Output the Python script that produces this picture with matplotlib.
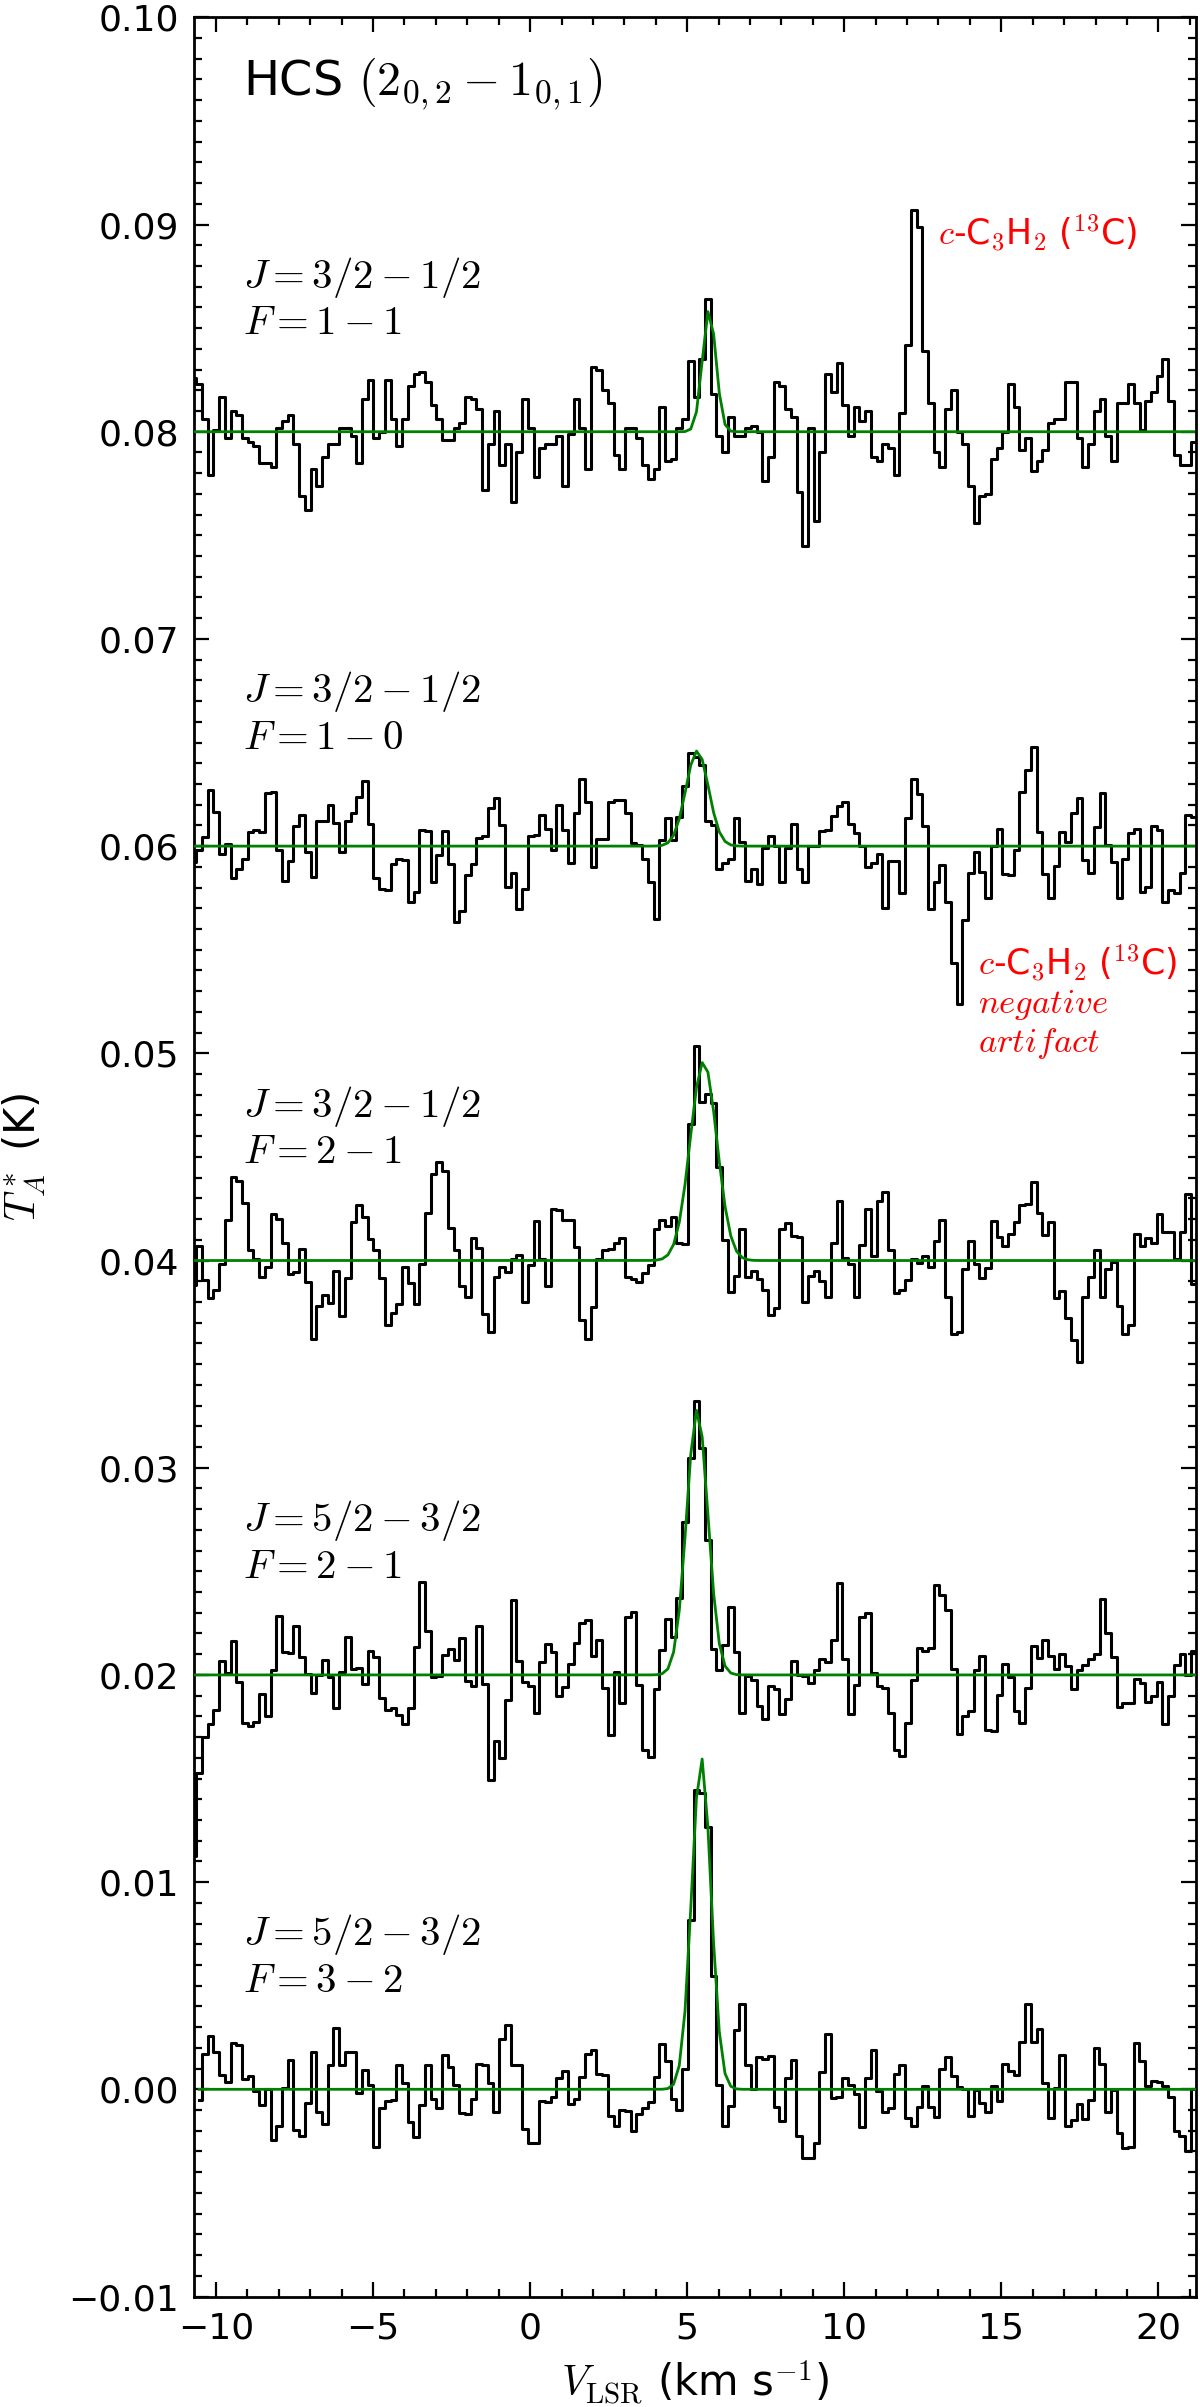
import numpy as np
import matplotlib
matplotlib.use("Agg")
import matplotlib.pyplot as plt
from matplotlib.ticker import MultipleLocator

plt.rcParams['font.family'] = ['DejaVu Sans']
plt.rcParams['mathtext.fontset'] = 'cm'

# ---------------- data (offsets from baseline in mK) ----------------
dv = 0.182                                   # channel width (km/s)
v_start = [-10.72, -10.72, -10.72, -10.72, -10.54]   # first channel velocity
baselines = [0.08, 0.06, 0.04, 0.02, 0.00]

spec_F11 = [2.6, 2.3, 0.6, -2.1, 0.1, 1.7, -0.3, 1.0, 0.8, -0.3,
            -0.5, -0.7, -1.5, -1.5, -1.7, 0.2, 0.5, 0.8, -0.6, -3.1,
            -3.8, -1.8, -2.6, -1.2, -0.6, -0.6, 0.2, 0.2, -0.2, -1.5,
            1.6, 2.5, -0.3, 0.0, 2.5, 0.6, -0.7, 0.6, 2.2, 2.8,
            2.9, 2.4, 1.3, 0.6, -0.4, -0.4, 0.2, 0.4, 1.7, 1.6,
            1.1, -2.8, -0.6, 1.0, -1.6, -0.6, -3.4, -1.0, 1.6, 0.2,
            -2.2, -0.8, -0.6, -0.6, -0.2, -2.6, -0.1, 1.6, 0.2, -1.8,
            3.1, 3.0, 2.0, 1.4, -1.1, -1.8, 0.2, 0.2, -0.3, -1.6,
            -2.3, -1.8, 1.2, -1.4, -1.3, 0.2, 0.6, 3.4, 1.7,
            3.5, 6.4, 1.8, -0.2, -1.0, 0.7, -0.2, -0.2, 0.2, 0.3,
            0.0, -2.4, -1.2, 2.4, 2.2, 1.1, 0.7, -2.9, -5.5, 0.2,
            -4.3, -1.0, 2.8, 1.9, 3.3, 1.3, -0.2, 1.2, 0.5, 1.0,
            -1.2, -1.4, -0.6, -0.8, -2.1, 0.9, 4.2, 10.7, 9.9, 3.9,
            1.4, -1.0, -1.7, 1.1, 2.0, 0.0, -0.6, -2.6, -4.4, -3.1,
            -3.0, -1.3, -0.8, 0.0, 2.3, 1.2, -0.9, -0.3, -1.9, -1.4,
            -0.9, 0.4, 0.6, 0.6, 2.4, 2.4, -0.3, -1.7, -0.6, 1.0,
            1.6, -0.2, -1.4, 1.4, 1.4, 2.3, 1.4, 0.1, 1.5, 1.9,
            2.7, 3.5, 1.5, -1.1, -1.6, -1.6, -0.5]

spec_F10 = [-0.75, -0.2, 0.45, 2.7, 1.65, -0.4, 0.1, -1.55, -1.1, -0.6,
            0.7, 0.8, 0.7, 2.55, 2.6, -0.2, -1.7, -0.7, 0.95, 1.5,
            -0.3, -1.5, 1.2, 1.2, 2.0, 1.1, -0.3, 1.2, 1.6, 2.35,
            3.15, 1.05, -1.55, -2.05, -2.1, -0.85, -0.6, -0.65, -2.7, -2.2,
            0.8, 0.75, -1.75, -0.45, 0.75, -0.85, -3.65, -3.15, -1.4, -0.85,
            0.4, 0.5, 1.85, 2.3, 1.0, -1.95, -1.3, -3.05, -2.05, 0.5,
            0.55, 1.5, 0.85, -0.2, 2.0, 0.8, -0.8, 1.6, 3.25, 2.15,
            -1.0, 0.35, 0.35, 2.15, 2.25, 2.25, 1.6, 0.15, 0.05, -0.6,
            -1.75, -3.5, 0.3, 1.35, 0.3, 1.4, 2.9, 4.5, 4.3, 3.9,
            1.2, 1.0, -1.1, -0.8, -0.6, 1.35, 0.2, -1.7, -1.1, -1.85,
            -0.1, 0.5, 0.0, -1.75, -0.1, 1.05, -1.1, -1.75, 0.0, 0.0,
            0.75, 0.8, 1.45, 1.95, 2.15, 1.05, 0.65, 0.0, -1.0, -0.8,
            -0.4, -3.0, -0.7, -0.7, -2.25, 1.35, 3.25, 2.5, 0.95, -3.05,
            -1.75, -0.9, -2.7, -5.65, -7.6, -3.55, -1.3, -0.3, -1.25, -2.5,
            0.0, 0.85, -1.35, -1.4, -0.2, 2.6, 3.65, 4.8, 0.7, -1.35,
            -2.5, -0.95, 0.7, 0.2, 1.6, 2.3, -0.65, -1.3, 0.9, 2.55,
            0.05, -0.75, -2.5, -0.6, 0.65, 0.85, -2.2, -1.95, 0.95, 0.8,
            -2.7, -2.1, -2.25, -1.3, 1.5, 1.4]

spec_F21a = [-1.2, 0.7, -0.95, -1.8, -1.4, -0.15, 1.95, 4.05, 3.85, 2.8,
             0.5, 0.05, -0.8, -0.3, 2.25, 2.0, 0.85, -0.65, -0.55, 0.55,
             -1.05, -3.8, -2.2, -1.65, -2.05, -0.5, -2.7, -0.85, 1.85, 2.7,
             2.1, 1.05, 0.5, -0.85, -3.1, -2.55, -2.1, -0.3, -1.1, -2.1,
             -0.15, 2.3, 4.2, 4.75, 4.3, 1.55, 0.5, -1.25, -1.75, 1.1,
             0.6, -2.6, -3.45, -0.8, -0.3, -0.55, 0.05, 0.25, -2.0, -0.2,
             1.9, 0.05, -1.25, 2.5, 2.45, 1.95, 1.95, 0.65, -2.85, -3.8,
             -2.25, 0.05, 0.5, 0.55, 0.85, 1.1, -0.8, -0.9, -1.05, -0.6,
             -0.2, 1.5, 1.95, 1.65, 2.1, 0.85, 0.8, 6.6, 10.35, 7.65,
             8.05, 7.6, 4.5, 1.0, -1.5, -0.75, 1.5, -0.8, -0.5, -0.9,
             -1.4, -2.65, -2.3, 1.5, 1.8, 1.2, 1.15, -2.0, -0.75, -0.5,
             -1.0, -1.75, 0.85, 2.85, 0.1, -0.15, -1.75, 0.75, 2.5, 0.2,
             2.85, 3.3, 0.5, -1.55, -1.4, -0.95, 0.05, -0.1, 0.2, -0.3,
             0.95, 1.95, -1.75, -3.55, -3.45, -0.4, 0.95, -0.15, -0.85, -0.35,
             1.9, 1.15, 0.7, 1.3, 1.85, 2.7, 2.75, 3.8, 2.3, 1.25,
             1.85, -1.8, -1.45, -2.75, -3.85, -4.9, -1.75, -0.8, 0.5, -1.75,
             -0.4, -0.05, -2.2, -3.55, -3.1, 1.3, 0.7, 1.1, 0.85, 2.25,
             1.4, 1.4, 0.05, 1.4, 3.2, -1.15]

spec_F21b = [-8.75, -4.75, -3.0, -2.35, -1.7, 0.65, 0.1, 1.65, -0.35, -2.3,
             -2.45, -2.25, -0.9, -2.0, 0.25, 2.85, 1.1, 1.05, 2.35, 0.85,
             0.05, -0.85, 0.0, 0.7, -0.1, -1.6, 0.15, 1.85, 0.3, 0.35,
             -0.45, 1.15, 0.85, -1.1, -1.7, -1.6, -1.95, -2.35, -1.6, 1.35,
             4.5, 2.1, -0.1, -0.05, 0.95, 1.25, 0.7, 1.8, -0.3, -0.55,
             2.35, -0.45, -5.05, -3.2, -4.0, -1.2, 3.6, 0.65, -0.35, -0.55,
             -1.85, 0.6, 1.5, 1.1, -1.0, -0.6, 0.55, 1.55, 2.5, 2.65,
             0.9, 1.7, -0.65, -2.9, 0.15, -1.35, 2.8, 3.05, -0.5, -3.6,
             -3.95, -0.7, 1.2, 2.7, 1.85, 3.7, 7.4, 10.45, 13.2, 10.95,
             6.5, 1.25, 0.25, 1.45, 3.3, 1.1, -1.85, -0.05, -0.25, -1.5,
             -2.15, -0.55, -0.7, -1.9, -1.15, 0.65, 0.0, -0.05, -0.4, 0.25,
             0.75, 0.6, 1.7, 4.45, 0.75, -1.9, -0.5, 2.8, 3.0, 0.1,
             -0.55, -0.65, -1.85, -3.6, -3.9, -2.3, -0.25, 1.3, 1.15, 1.3,
             4.35, 3.85, 3.15, 0.3, -2.85, -2.0, -1.75, 0.25, 0.9, -2.65,
             -2.7, -0.95, 0.55, -0.1, -1.75, -2.3, -0.65, 1.4, 0.8, 1.7,
             0.9, 0.3, 1.0, 0.45, -0.7, 0.25, 0.5, 0.75, 1.0, 3.65,
             2.0, 0.85, -1.55, -1.35, -1.35, -0.2, -0.4, -1.3, -1.0, -0.35,
             -2.35, -1.0, 0.5, 1.0, 0.0, 1.15, 1.5]

spec_F32 = [-0.5, 1.7, 2.55, 1.8, 0.7, 0.35, 2.25, 2.15, 0.5, 0.65, -0.1,
            -0.75, 0.0, -2.45, -1.75, 0.05, 1.4, -1.95, -2.25, -0.65, 1.8,
            -1.1, -1.65, 1.15, 2.95, 1.15, 1.8, 1.8, -0.2, 0.95, 0.2,
            -2.8, -0.9, -0.55, -0.5, 1.15, 0.3, -1.6, -2.3, -0.75, 1.15,
            -0.45, -0.9, 1.65, 1.1, 0.2, -1.15, -1.2, -0.45, 1.2, 1.15,
            0.3, -1.1, 2.45, 3.1, 1.15, 1.15, -1.9, -2.6, -2.6, -0.55,
            -0.6, -0.35, 0.55, 0.9, -0.7, -0.45, 0.6, 1.7, 1.9, 0.75,
            0.7, -1.3, -1.75, -1.0, -1.05, -2.0, -1.2, -0.9, -0.6, 0.6,
            2.2, 1.35, -0.45, -1.0, 1.0, 8.15, 14.45, 14.3, 12.65, 5.45,
            0.2, -1.75, -0.8, 2.85, 4.1, 1.15, 0.0, 1.55, 1.45, 1.6,
            -0.85, -1.55, 0.55, 1.4, -2.25, -3.3, -3.3, -2.6, 0.85, 2.65,
            -0.4, -0.35, 0.55, 0.2, -0.25, -1.8, 0.55, 1.9, -0.1, -1.1,
            -0.9, 0.75, 1.15, -1.4, -1.75, -0.85, 0.15, -0.85, -1.35, 1.0,
            1.55, 0.65, 0.1, 0.0, -1.3, -0.05, -0.65, -1.1, 0.15, -0.55,
            1.2, 0.9, 0.7, 2.3, 4.1, 2.3, 2.9, 0.3, -1.4, 0.05,
            1.65, -1.75, -1.5, -0.7, -1.45, -0.5, 2.0, 1.2, -1.1, -0.05,
            -2.1, -2.85, -2.8, 2.25, 1.35, 0.15, 0.4, 0.35, 0.15, -0.35,
            -2.0, -2.25, -3.0, 0.0, 1.1]

spectra = [spec_F11, spec_F10, spec_F21a, spec_F21b, spec_F32]

# Gaussian fit parameters (centre km/s, peak mK, FWHM km/s)
fit_center = [5.70, 5.32, 5.52, 5.32, 5.45]
fit_peak = [5.9, 4.6, 9.6, 12.8, 16.0]
fit_fwhm = [0.50, 0.85, 1.00, 0.80, 0.72]

labels_J = ['3/2-1/2', '3/2-1/2', '3/2-1/2', '5/2-3/2', '5/2-3/2']
labels_F = ['1-1', '1-0', '2-1', '2-1', '3-2']

# ---------------- figure ----------------
fig = plt.figure(figsize=(12, 24.07), dpi=100)
ax = fig.add_axes([0.1617, 0.0459, 0.835, 0.9469])

for i, s in enumerate(spectra):
    v = v_start[i] + dv * np.arange(len(s))
    y = baselines[i] + np.asarray(s) * 1e-3
    ax.plot(v, y, drawstyle='steps-mid', color='k', lw=2.2, zorder=2)
    g = baselines[i] + fit_peak[i] * 1e-3 * np.exp(
        -4 * np.log(2) * (v - fit_center[i]) ** 2 / fit_fwhm[i] ** 2)
    ax.plot(v, g, color='g', lw=2.0, zorder=3)
    ax.text(-9.15, baselines[i] + 0.0064,
            r'$J=%s$' % labels_J[i] + '\n' + r'$F=%s$' % labels_F[i],
            fontsize=29.5, va='center', ha='left', linespacing=1.12)

ax.text(-9.15, 0.0968, r'HCS $(2_{0,2}-1_{0,1})$', fontsize=34.5,
        va='center', ha='left')
ax.text(12.98, 0.0896, r'$c$-C$_3$H$_2$ ($^{13}$C)', color='r',
        fontsize=25, va='center', ha='left')
ax.text(14.25, 0.0525, r'$c$-C$_3$H$_2$ ($^{13}$C)' + '\n' + r'$negative$'
        + '\n' + r'$artifact$', color='r', fontsize=25, va='center',
        ha='left', linespacing=1.08)

ax.set_xlim(-10.7, 21.2)
ax.set_ylim(-0.01, 0.10)
ax.xaxis.set_major_locator(MultipleLocator(5))
ax.xaxis.set_minor_locator(MultipleLocator(1))
ax.yaxis.set_major_locator(MultipleLocator(0.01))
ax.yaxis.set_minor_locator(MultipleLocator(0.001))
ax.tick_params(which='both', direction='in', top=True, right=True,
               width=1.6, labelsize=26, pad=11)
ax.tick_params(which='major', length=11)
ax.tick_params(which='minor', length=5.5)
for sp in ax.spines.values():
    sp.set_linewidth(2.0)

ax.set_xlabel(r'$V_{\rm LSR}$ (km s$^{-1}$)', fontsize=30)
ax.set_ylabel(r'$T_A^*$ (K)', fontsize=30)
ax.xaxis.set_label_coords(0.5, -0.038)
ax.xaxis.label.set_va('center')
ax.yaxis.set_label_coords(-0.17, 0.5)
ax.yaxis.label.set_va('center')

fig.savefig('out.png', dpi=100)
